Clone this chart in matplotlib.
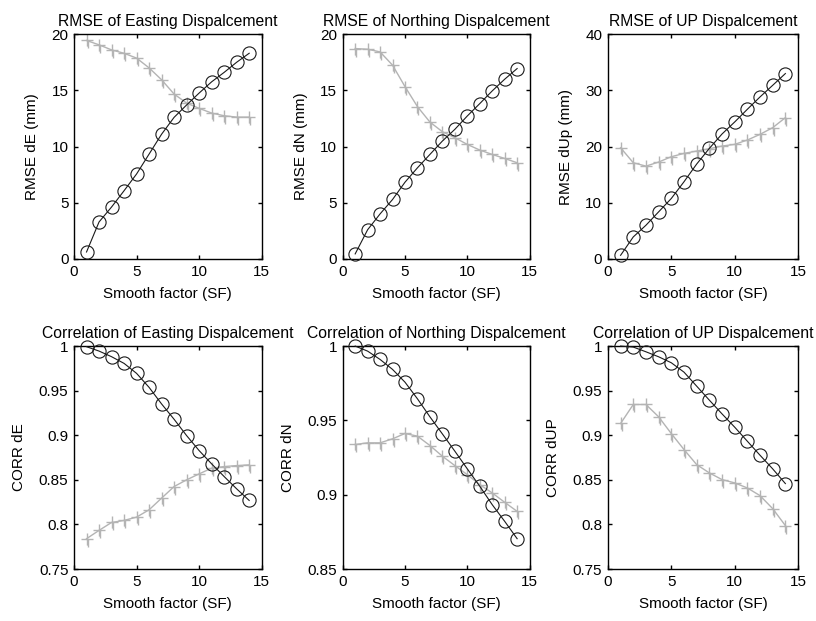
import numpy as np
import matplotlib
matplotlib.use("Agg")
import matplotlib.pyplot as plt
from matplotlib.path import Path

plt.rcParams["font.family"] = ["Liberation Sans", "DejaVu Sans"]
plt.rcParams["font.size"] = 11

# smoothing factor for every series
sf = np.arange(1, 15)

# ── RMSE (mm) ──────────────────────────────
rmse_e_black = [0.62, 3.29, 4.62, 6.07, 7.56, 9.33, 11.1, 12.6, 13.7, 14.76, 15.76, 16.6, 17.5, 18.3]
rmse_e_gray  = [19.44, 19.05, 18.6, 18.3, 17.87, 17.0, 15.94, 14.67, 13.87, 13.4, 12.98, 12.74, 12.62, 12.62]

rmse_n_black = [0.45, 2.6, 4.01, 5.29, 6.83, 8.11, 9.3, 10.49, 11.53, 12.72, 13.82, 14.95, 15.99, 16.94]
rmse_n_gray  = [18.72, 18.66, 18.42, 17.24, 15.33, 13.55, 12.18, 11.32, 10.79, 10.19, 9.69, 9.3, 8.94, 8.56]

rmse_u_black = [0.65, 3.92, 6.0, 8.38, 10.76, 13.73, 16.88, 19.67, 22.23, 24.37, 26.63, 28.83, 30.9, 32.99]
rmse_u_gray  = [19.79, 17.12, 16.52, 17.24, 18.19, 18.78, 19.2, 19.61, 20.09, 20.39, 21.16, 22.17, 23.36, 25.14]

# ── Correlation ────────────────────────────
corr_e_black = [0.9993, 0.9944, 0.9881, 0.9806, 0.9694, 0.9537, 0.9351, 0.9179, 0.8996, 0.8828, 0.8679, 0.8537, 0.8399, 0.8269]
corr_e_gray  = [0.784, 0.7933, 0.8022, 0.8045, 0.8082, 0.8164, 0.8295, 0.8425, 0.85, 0.8567, 0.8631, 0.8649, 0.866, 0.8668]

corr_n_black = [1.0, 0.9966, 0.991, 0.9843, 0.9757, 0.9645, 0.9524, 0.9409, 0.9293, 0.9174, 0.9057, 0.8933, 0.8821, 0.8704]
corr_n_gray  = [0.9338, 0.9349, 0.9349, 0.9376, 0.9412, 0.9394, 0.9331, 0.9259, 0.9196, 0.9135, 0.9068, 0.9012, 0.8949, 0.8888]

corr_u_black = [1.0, 0.9989, 0.9936, 0.988, 0.9813, 0.9708, 0.9551, 0.9394, 0.924, 0.9091, 0.8933, 0.8776, 0.8623, 0.8458]
corr_u_gray  = [0.9132, 0.9345, 0.9345, 0.9207, 0.9019, 0.884, 0.8671, 0.8578, 0.8503, 0.8466, 0.8409, 0.8323, 0.8177, 0.7987]

titles = [
    "RMSE of Easting Dispalcement", "RMSE of Northing Dispalcement", "RMSE of UP Dispalcement",
    "Correlation of Easting Dispalcement", "Correlation of Northing Dispalcement", "Correlation of UP Dispalcement",
]
ylabels = ["RMSE dE (mm)", "RMSE dN (mm)", "RMSE dUp (mm)", "CORR dE", "CORR dN", "CORR dUP"]
ylims   = [(0, 20), (0, 20), (0, 40), (0.75, 1), (0.85, 1), (0.75, 1)]
yticks  = [
    [0, 5, 10, 15, 20], [0, 5, 10, 15, 20], [0, 10, 20, 30, 40],
    [0.75, 0.8, 0.85, 0.9, 0.95, 1], [0.85, 0.9, 0.95, 1], [0.75, 0.8, 0.85, 0.9, 0.95, 1],
]
ytick_labels = [
    ["0", "5", "10", "15", "20"], ["0", "5", "10", "15", "20"], ["0", "10", "20", "30", "40"],
    ["0.75", "0.8", "0.85", "0.9", "0.95", "1"], ["0.85", "0.9", "0.95", "1"],
    ["0.75", "0.8", "0.85", "0.9", "0.95", "1"],
]
black_series = [rmse_e_black, rmse_n_black, rmse_u_black, corr_e_black, corr_n_black, corr_u_black]
gray_series  = [rmse_e_gray, rmse_n_gray, rmse_u_gray, corr_e_gray, corr_n_gray, corr_u_gray]

# plus sign with a short dotted stub hanging below it
_verts = [(-1, 0), (1, 0), (0, -1), (0, 1), (0.25, 0), (0.25, -1.3)]
_codes = [Path.MOVETO, Path.LINETO, Path.MOVETO, Path.LINETO, Path.MOVETO, Path.LINETO]
plus_stub = Path(_verts, _codes)

# axes rectangles [left, bottom, width, height]
positions = [
    [0.0907, 0.583, 0.230, 0.362], [0.420, 0.583, 0.229, 0.362], [0.745, 0.583, 0.233, 0.362],
    [0.0907, 0.0837, 0.230, 0.359], [0.420, 0.0837, 0.229, 0.359], [0.745, 0.0837, 0.233, 0.359],
]

fig = plt.figure(figsize=(8.16, 6.21), dpi=100)

for i in range(6):
    ax = fig.add_axes(positions[i])
    ax.plot(sf, gray_series[i], color="#b4b4b4", lw=1.0, marker=plus_stub,
            markersize=11, markeredgewidth=1.0, clip_on=False, zorder=2)
    ax.plot(sf, black_series[i], color="#1a1a1a", lw=0.8, marker="o", markersize=9.5,
            markerfacecolor="none", markeredgecolor="#1a1a1a", markeredgewidth=0.8,
            clip_on=False, zorder=3)

    ax.set_xlim(0, 15)
    ax.set_xticks([0, 5, 10, 15])
    ax.set_ylim(*ylims[i])
    ax.set_yticks(yticks[i])
    ax.set_yticklabels(ytick_labels[i])
    ax.tick_params(direction="in", top=True, right=True, length=3, width=1.0,
                   labelsize=11, pad=4)
    for spine in ax.spines.values():
        spine.set_linewidth(1.0)

    ax.set_title(titles[i], fontsize=11.3, pad=6)
    ax.set_ylabel(ylabels[i], fontsize=11, labelpad=9)
    ax.set_xlabel("Smooth factor (SF)", fontsize=11, labelpad=6)

fig.savefig("out.png", dpi=100, facecolor="white")
